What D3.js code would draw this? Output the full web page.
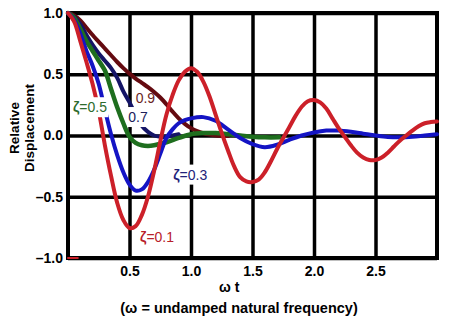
<!DOCTYPE html>
<html><head><meta charset="utf-8">
<script src="https://cdn.jsdelivr.net/npm/d3@7"></script>
<style>body{margin:0;background:#fff} svg{display:block;font-family:Arial,"Liberation Sans",sans-serif}</style>
</head><body><svg id="c" width="456" height="325"></svg>
<script>
const xTicks=[0.5,1.0,1.5,2.0,2.5];
const yTicks=[-1,-0.5,0,0.5,1];
const zetaNames=["0.9","0.7","ζ=0.5","ζ=0.3","ζ=0.1"];
const zeta09=[[0,1],[0.05,0.98],[0.1,0.94],[0.15,0.88],[0.2,0.82],[0.25,0.765],[0.3,0.71],[0.35,0.655],[0.4,0.6],[0.45,0.55],[0.5,0.505],[0.55,0.465],[0.6,0.43],[0.65,0.395],[0.7,0.355],[0.75,0.31],[0.8,0.255],[0.85,0.195],[0.9,0.14],[0.95,0.095],[1.0,0.06],[1.05,0.035],[1.1,0.018],[1.15,0.007],[1.2,0.0],[1.3,-0.005]];
const zeta07=[[0,1],[0.05,0.97],[0.1,0.91],[0.15,0.82],[0.2,0.74],[0.25,0.67],[0.3,0.61],[0.35,0.55],[0.4,0.47],[0.45,0.36],[0.5,0.27],[0.55,0.17],[0.6,0.08],[0.65,0.03],[0.7,0.0],[0.75,-0.01],[0.8,-0.01],[0.85,0.0],[0.9,0.01]];
const zeta05=[[0,1],[0.05,0.96],[0.1,0.87],[0.15,0.77],[0.2,0.69],[0.25,0.61],[0.3,0.53],[0.35,0.38],[0.4,0.23],[0.45,0.1],[0.5,-0.01],[0.55,-0.06],[0.6,-0.08],[0.65,-0.085],[0.7,-0.08],[0.8,-0.055],[0.9,-0.02],[1.0,0.01],[1.1,0.02],[1.2,0.02],[1.3,0.01],[1.4,0.0],[1.5,-0.01],[1.6,-0.015],[1.72,-0.015]];
const zeta03=[[0,1],[0.05,0.94],[0.1,0.83],[0.15,0.69],[0.2,0.57],[0.25,0.42],[0.3,0.21],[0.35,0.01],[0.4,-0.16],[0.45,-0.3],[0.5,-0.4],[0.55,-0.45],[0.6,-0.44],[0.65,-0.38],[0.7,-0.28],[0.75,-0.15],[0.8,-0.02],[0.85,0.05],[0.9,0.1],[0.95,0.125],[1.0,0.14],[1.1,0.15],[1.2,0.12],[1.3,0.05],[1.4,-0.02],[1.5,-0.07],[1.6,-0.095],[1.7,-0.075],[1.8,-0.035],[1.9,0.0],[2.0,0.025],[2.1,0.04],[2.2,0.04],[2.3,0.03],[2.4,0.015],[2.5,0.0],[2.6,-0.012],[2.7,-0.015],[2.8,-0.01],[2.9,0.0],[3.0,0.01]];
const zeta01=[[0,1],[0.05,0.93],[0.1,0.77],[0.15,0.6],[0.2,0.42],[0.25,0.2],[0.3,-0.08],[0.35,-0.33],[0.4,-0.55],[0.45,-0.69],[0.5,-0.755],[0.55,-0.74],[0.6,-0.65],[0.65,-0.5],[0.7,-0.29],[0.75,-0.05],[0.8,0.17],[0.85,0.33],[0.9,0.45],[0.95,0.52],[1.0,0.55],[1.05,0.52],[1.1,0.44],[1.15,0.32],[1.2,0.17],[1.25,0.02],[1.3,-0.12],[1.35,-0.25],[1.4,-0.34],[1.45,-0.375],[1.5,-0.38],[1.55,-0.36],[1.6,-0.3],[1.65,-0.21],[1.7,-0.11],[1.75,-0.02],[1.8,0.07],[1.85,0.16],[1.9,0.235],[1.95,0.28],[2.0,0.29],[2.05,0.27],[2.1,0.22],[2.15,0.14],[2.2,0.06],[2.25,-0.01],[2.3,-0.08],[2.35,-0.14],[2.4,-0.18],[2.45,-0.2],[2.5,-0.2],[2.55,-0.18],[2.6,-0.14],[2.65,-0.09],[2.7,-0.04],[2.75,0.0],[2.8,0.04],[2.85,0.075],[2.9,0.1],[2.95,0.11],[3.0,0.115]];
const strayRed=[[0,-1],[0.08,-1]];

const svg=d3.select("#c");
const L=68,R=437,T=13,B=258;
const x=d3.scaleLinear().domain([0,3]).range([L,R]);
const y=d3.scaleLinear().domain([-1,1]).range([B,T]);

const gx=svg.append("g").attr("transform",`translate(0,${B})`)
  .call(d3.axisBottom(x).tickValues(xTicks).tickSize(-(B-T)).tickFormat(d=>d.toFixed(1)).tickPadding(10));
gx.select(".domain").remove();
gx.selectAll(".tick line").attr("stroke","#000").attr("stroke-width",3.5);
gx.selectAll(".tick text").attr("font-size",14).attr("font-weight","bold").attr("fill","#000").attr("dy","0.55em");

const gy=svg.append("g").attr("transform",`translate(${L},0)`)
  .call(d3.axisLeft(y).tickValues(yTicks).tickSize(-(R-L)).tickFormat(d=>(d<0?"\u2013":"")+Math.abs(d).toFixed(1)).tickPadding(5));
gy.select(".domain").remove();
gy.selectAll(".tick line").attr("stroke","#000").attr("stroke-width",3.5);
gy.selectAll(".tick text").attr("font-size",14).attr("font-weight","bold").attr("fill","#000");

svg.append("rect").attr("x",L).attr("y",T).attr("width",R-L).attr("height",B-T)
  .attr("fill","none").attr("stroke","#000").attr("stroke-width",4);

const line=d3.line().x(d=>x(d[0])).y(d=>y(d[1])).curve(d3.curveCatmullRom.alpha(0.5));
const series=[
  {d:zeta09,c:"#640a10",w:4},
  {d:zeta07,c:"#141466",w:4},
  {d:zeta05,c:"#1e6e1e",w:4.5},
  {d:zeta03,c:"#1414c4",w:4},
  {d:zeta01,c:"#cc2029",w:4},
  {d:strayRed,c:"#cc2029",w:2}
];
svg.append("g").selectAll("path").data(series).join("path")
  .attr("d",s=>line(s.d)).attr("fill","none").attr("stroke",s=>s.c)
  .attr("stroke-width",s=>s.w).attr("stroke-linecap","round").attr("stroke-linejoin","round");

const labels=[
  {t:zetaNames[0],px:0.55,py:0.265,c:"#6b1f1f",bg:false},
  {t:zetaNames[1],px:0.49,py:0.11,c:"#20205a",bg:true},
  {t:zetaNames[2],px:0.04,py:0.19,c:"#2d6b2d",bg:true},
  {t:zetaNames[3],px:0.855,py:-0.36,c:"#22227a",bg:true},
  {t:zetaNames[4],px:0.585,py:-0.87,c:"#b8202a",bg:false}
];
const lg=svg.append("g");
labels.forEach(l=>{
  const g=lg.append("g");
  const bgR=g.append("rect").attr("fill","#fff");
  const t=g.append("text").attr("x",x(l.px)).attr("y",y(l.py)).attr("font-size",14).attr("fill",l.c);
  if(l.t.startsWith("ζ")){
    t.append("tspan").attr("font-weight","bold").text("ζ");
    t.append("tspan").text(l.t.slice(1));
  } else t.text(l.t);
  if(l.bg){
    const bb=t.node().getBBox();
    bgR.attr("x",bb.x-1).attr("y",bb.y-2).attr("width",bb.width+2).attr("height",bb.height+4);
  } else bgR.remove();
});

svg.append("text").attr("x",x(1.31)).attr("y",292).attr("text-anchor","middle")
  .attr("font-size",14).attr("font-weight","bold").text("ω t");
svg.append("text").attr("x",239).attr("y",313).attr("text-anchor","middle")
  .attr("font-size",14.5).attr("font-weight","bold").text("(ω = undamped natural frequency)");
const yt=svg.append("text").attr("transform","translate(0,128) rotate(-90)")
  .attr("text-anchor","middle").attr("font-size",13.5).attr("font-weight","bold");
yt.append("tspan").attr("x",0).attr("y",19).text("Relative");
yt.append("tspan").attr("x",0).attr("y",34).text("Displacement");
</script></body></html>
